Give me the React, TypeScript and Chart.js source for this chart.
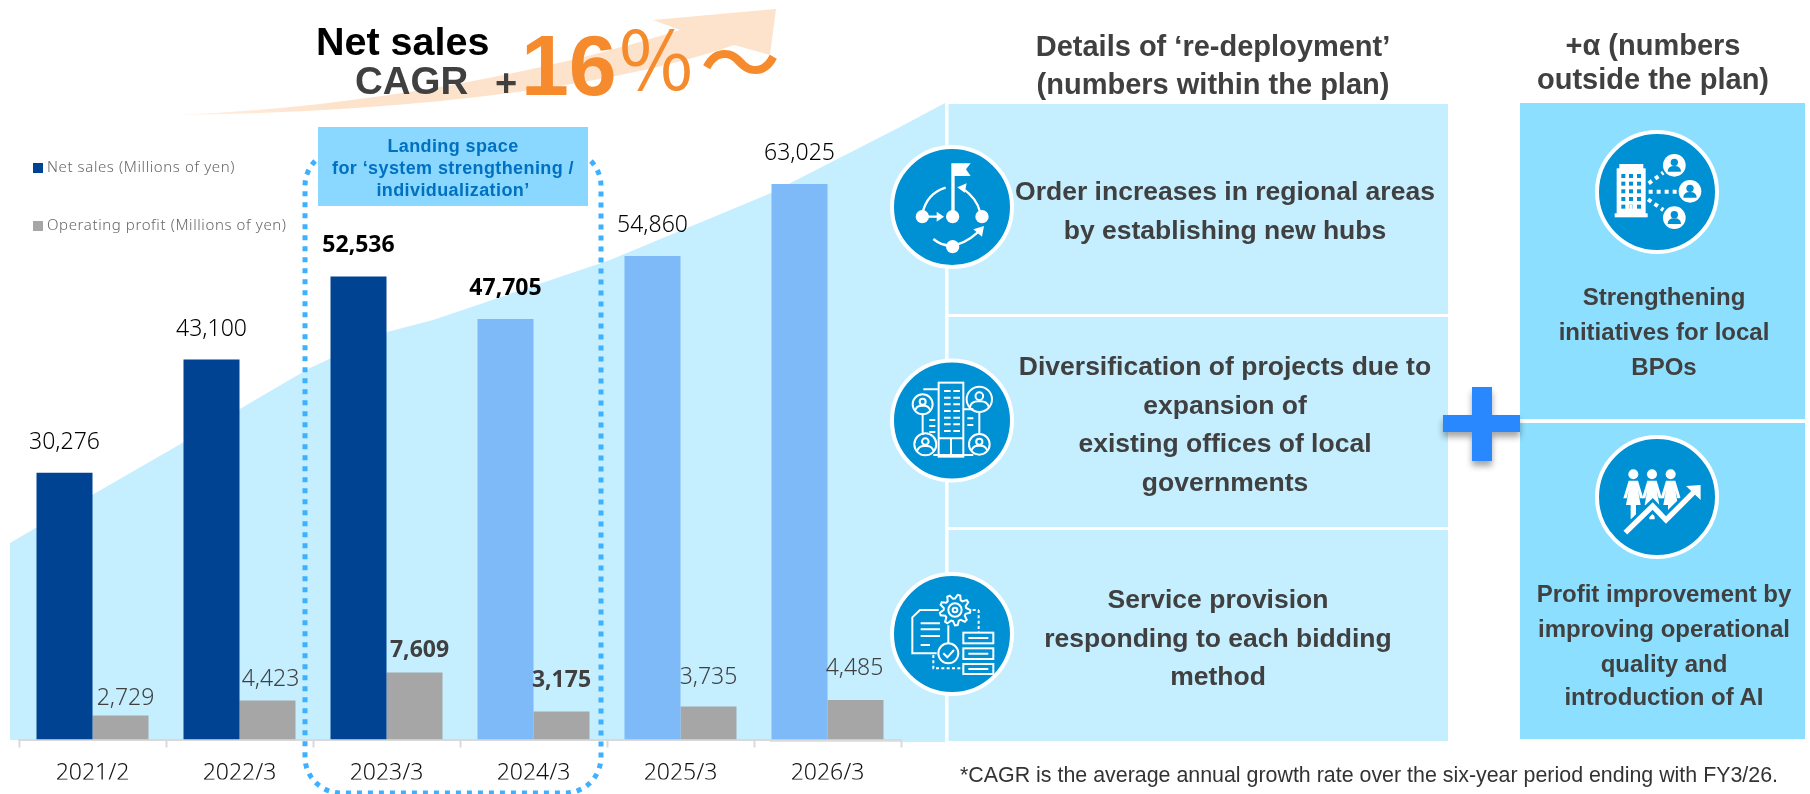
import React, { useEffect, useRef } from "react";
import Chart from "chart.js/auto";

const categories = ["2021/2", "2022/3", "2023/3", "2024/3", "2025/3", "2026/3"];
const netSales = [30276, 43100, 52536, 47705, 54860, 63025];
const operatingProfit = [2729, 4423, 7609, 3175, 3735, 4485];
const netSalesColors = ["#004393", "#004393", "#004393", "#7EB9F8", "#7EB9F8", "#7EB9F8"];
const emphasised = [false, false, true, true, false, false];
const profitLabelGaps = [10, 15, 15, 25, 23, 25];
const profitLabelShifts = [5, 3, 5, 0, 0, -1];
const backdropOutline = "10,543 92,495 184,442 255,400 310,368 387,332 433,320 610,260 771,193 900,127 945,103 945,742 770,742 770,740 10,740";

const SANS = '"Liberation Sans", Arial, sans-serif';
const NOTO = '"Noto Sans", sans-serif';
const CJK = '"Noto Sans CJK JP", sans-serif';
const DARK = "#404040";
const CIRCLE = "#0090D4";

const valueLabels = {
  id: "valueLabels",
  afterDatasetsDraw(chart: any) {
    const { ctx } = chart;
    ctx.save();
    ctx.textAlign = "center";
    ctx.textBaseline = "alphabetic";
    chart.getDatasetMeta(0).data.forEach((el: any, i: number) => {
      ctx.font = `${emphasised[i] ? "700" : "300"} 23px ${NOTO}`;
      ctx.fillStyle = "#000000";
      ctx.fillText(netSales[i].toLocaleString("en-US"), el.x, el.y - 24);
    });
    chart.getDatasetMeta(1).data.forEach((el: any, i: number) => {
      ctx.font = `${emphasised[i] ? "700" : "300"} 23px ${NOTO}`;
      ctx.fillStyle = emphasised[i] ? "#404040" : "#404040";
      ctx.fillText(operatingProfit[i].toLocaleString("en-US"), el.x + profitLabelShifts[i], el.y - profitLabelGaps[i]);
    });
    ctx.restore();
  },
};

function CentredLines({ x, baselines, lines, size, fill = DARK, spacing = 0 }: any) {
  return (
    <text fontFamily={SANS} fontWeight={700} fontSize={size} fill={fill} textAnchor="middle" letterSpacing={spacing}>
      {lines.map((l: string, i: number) => (
        <tspan key={i} x={x} y={baselines[i]}>{l}</tspan>
      ))}
    </text>
  );
}

function Zoomed({ x, y, children }: any) {
  return <g transform={`translate(${x} ${y}) scale(0.3333)`}>{children}</g>;
}

function Badge({ x, y }: any) {
  return <circle cx={x} cy={y} r={60} fill={CIRCLE} stroke="#fff" strokeWidth={4} />;
}

function Person({ x, y, r }: any) {
  return (
    <g fill="none" stroke="#fff" strokeWidth={6}>
      <circle cx={x} cy={y} r={r} />
      <circle cx={x} cy={y - r * 0.25} r={r * 0.3} />
      <path d={`M${x - r * 0.75} ${y + r * 0.6} Q${x - r * 0.6} ${y + r * 0.1} ${x} ${y + r * 0.15} Q${x + r * 0.6} ${y + r * 0.1} ${x + r * 0.75} ${y + r * 0.6}`} />
    </g>
  );
}

function FilledPerson({ x, y }: any) {
  return (
    <g>
      <circle cx={x} cy={y} r={34} fill="#fff" />
      <circle cx={x} cy={y - 9} r={11} fill={CIRCLE} />
      <path d={`M${x - 20} ${y + 19} Q${x - 20} ${y + 2} ${x} ${y + 2} Q${x + 20} ${y + 2} ${x + 20} ${y + 19} Z`} fill={CIRCLE} />
    </g>
  );
}

function gearPoints(cx: number, cy: number, inner: number, outer: number, teeth: number) {
  const pts: string[] = [];
  for (let i = 0; i < teeth * 4; i++) {
    const a = (i / (teeth * 4)) * Math.PI * 2;
    const r = i % 4 < 2 ? outer : inner;
    pts.push(`${(cx + r * Math.cos(a)).toFixed(1)},${(cy + r * Math.sin(a)).toFixed(1)}`);
  }
  return pts.join(" ");
}

function IconHubs() {
  return (
    <Zoomed x={880} y={140}>
      <g fill="#fff">
        <polygon points="214,70 272,70 258,88 272,108 224,108 224,215 214,215" />
        <circle cx={127} cy={230} r={20} /><circle cx={218} cy={230} r={20} />
        <circle cx={306} cy={230} r={20} /><circle cx={218} cy={320} r={20} />
        <polygon points="170,215 192,230 170,245" />
        <polygon points="232,142 260,130 254,158" />
        <polygon points="312,258 306,290 280,268" />
      </g>
      <g fill="none" stroke="#fff" strokeWidth={7}>
        <path d="M197 143 Q140 160 127 222" />
        <path d="M127 230 H180" />
        <path d="M300 215 Q290 175 248 145" />
        <path d="M160 297 Q218 345 296 275" />
      </g>
    </Zoomed>
  );
}

function IconOffices() {
  const rows = [123, 143, 163, 183, 203, 223, 243];
  return (
    <Zoomed x={880} y={350}>
      <g fill="none" stroke="#fff" strokeWidth={6}>
        <rect x={176} y={98} width={74} height={222} />
        <path d="M176 265 H250 M213 265 V320" />
        <path d="M130 118 H176 M128 190 V255 M298 188 V252 M250 178 H280" />
        <path d="M160 315 H280" />
        {rows.map((y) => (
          <path key={y} d={`M192 ${y} H212 M220 ${y} H240`} />
        ))}
        <path d="M148 210 H166 M148 228 H166 M148 246 H166 M262 205 H280 M262 225 H280" />
      </g>
      <Person x={128} y={163} r={30} />
      <Person x={298} y={148} r={38} />
      <Person x={136} y={283} r={33} />
      <Person x={298} y={283} r={31} />
    </Zoomed>
  );
}

function IconBidding() {
  return (
    <Zoomed x={880} y={560}>
      <g fill="none" stroke="#fff" strokeWidth={6}>
        <polygon points={gearPoints(225, 150, 34, 46, 9)} />
        <circle cx={225} cy={150} r={20} />
        <circle cx={225} cy={150} r={7} />
        <path d="M176 150 H120 L97 172 V280 H170" />
        <path d="M122 190 H180 M122 208 H180 M122 228 H180 M122 255 H150" />
        <circle cx={205} cy={280} r={30} />
        <path d="M190 280 L202 292 L222 270" />
        <path d="M205 196 V250" />
        <rect x={250} y={218} width={90} height={32} />
        <rect x={250} y={265} width={90} height={32} />
        <rect x={250} y={312} width={90} height={30} />
        <path d="M265 234 H325 M265 281 H325 M265 327 H325" />
        <path d="M296 150 V215 M278 150 H296" strokeDasharray="9 7" />
        <path d="M160 285 V325 H250" strokeDasharray="9 7" />
      </g>
    </Zoomed>
  );
}

function IconBuilding() {
  const cols = [130, 153, 177];
  const rows = [138, 161, 184, 207, 230];
  return (
    <Zoomed x={1580} y={130}>
      <g fill="#fff">
        <rect x={118} y={102} width={72} height={20} />
        <rect x={110} y={115} width={87} height={140} />
        <rect x={104} y={250} width={99} height={12} />
      </g>
      <g fill={CIRCLE}>
        {rows.map((y) => cols.map((x) => <rect key={`${x}-${y}`} x={x - 6} y={y - 6} width={12} height={12} />))}
      </g>
      <rect x={148} y={224} width={10} height={28} fill="#fff" />
      <g stroke="#fff" strokeWidth={12} strokeDasharray="12 12" fill="none">
        <path d="M206 160 L250 128" />
        <path d="M206 185 H294" />
        <path d="M204 208 L250 240" />
      </g>
      <FilledPerson x={283} y={106} />
      <FilledPerson x={330} y={184} />
      <FilledPerson x={283} y={263} />
    </Zoomed>
  );
}

function IconGrowth() {
  const body = (x: number) => `M${x - 14} 152 H${x + 14} L${x + 30} 205 H${x + 20} L${x + 14} 180 L${x + 22} 225 H${x + 8} V268 H${x - 8} V225 H${x - 22} L${x - 14} 180 L${x - 20} 205 H${x - 30} Z`;
  return (
    <Zoomed x={1580} y={430}>
      <g fill="#fff">
        {[160, 216, 272].map((x) => (
          <g key={x}>
            <circle cx={x} cy={133} r={15} />
            <path d={body(x)} />
          </g>
        ))}
      </g>
      <polyline points="136,308 218,228 258,270 340,188" fill="none" stroke={CIRCLE} strokeWidth={34} />
      <polyline points="136,308 218,228 258,270 340,188" fill="none" stroke="#fff" strokeWidth={16} />
      <polygon points="362,165 362,210 318,168" fill="#fff" />
    </Zoomed>
  );
}

const fill = { position: "absolute", left: 0, top: 0, width: 1810, height: 794 } as const;

export default function App() {
  const ref = useRef<HTMLCanvasElement | null>(null);
  useEffect(() => {
    if (!ref.current) return;
    const chart = new Chart(ref.current, {
      type: "bar",
      data: {
        labels: categories,
        datasets: [
          { label: "Net sales (Millions of yen)", data: netSales, backgroundColor: netSalesColors },
          { label: "Operating profit (Millions of yen)", data: operatingProfit, backgroundColor: "#A6A6A6" },
        ],
      },
      options: {
        responsive: false,
        animation: false,
        events: [],
        layout: { padding: { left: 19, right: 909, top: 122.5, bottom: 14.5 } },
        datasets: { bar: { categoryPercentage: 0.762, barPercentage: 1 } },
        plugins: { legend: { display: false }, tooltip: { enabled: false } },
        scales: {
          y: { display: false, min: 0, max: 70000 },
          x: {
            afterFit(scale: any) { scale.height = 40; },
            border: { color: "#D9D9D9", width: 2 },
            grid: { drawOnChartArea: false, tickLength: 8, tickColor: "#D9D9D9", tickWidth: 2 },
            ticks: { color: "#111111", font: { family: "Noto Sans", size: 23, weight: "300" }, padding: 12, autoSkip: false, maxRotation: 0 },
          },
        },
      } as any,
      plugins: [valueLabels],
    });
    return () => chart.destroy();
  }, []);

  return (
    <div style={{ ...fill, overflow: "hidden", background: "#fff" }}>
      <svg width={1810} height={794} style={{ ...fill, display: "block" }}>
        <polygon points={backdropOutline} fill="#C5EEFF" />
        <g fill="#C5EEFF">
          <rect x={948} y={104} width={500} height={210} />
          <rect x={948} y={317} width={500} height={210} />
          <rect x={948} y={530} width={500} height={211} />
        </g>
        <g fill="#8DDFFF">
          <rect x={1520} y={103} width={285} height={316} />
          <rect x={1520} y={423} width={285} height={316} />
        </g>
      </svg>
      <canvas ref={ref} width={1810} height={794} style={{ ...fill, display: "block" }} />
      <svg width={1810} height={794} style={{ ...fill, display: "block" }}>
        <defs>
          <linearGradient id="arrowFade" x1="0" x2="1" y1="0" y2="0">
            <stop offset="0" stopColor="#FDE3CB" stopOpacity={0.5} />
            <stop offset="0.25" stopColor="#FDE3CB" />
            <stop offset="1" stopColor="#FDE3CB" />
          </linearGradient>
          <filter id="plusShadow" x="-20%" y="-20%" width="140%" height="150%">
            <feDropShadow dx={0} dy={5} stdDeviation={3} floodColor="#000" floodOpacity={0.35} />
          </filter>
        </defs>

        <path d="M176 115 C340 108 520 80 680 30 L653 20 L776 9 L770 55 L734 45 C620 85 420 112 176 115 Z" fill="url(#arrowFade)" />
        <text x={316} y={55} fontFamily={SANS} fontWeight={700} fontSize={39.5} fill="#000">Net sales</text>
        <text x={355} y={94} fontFamily={SANS} fontWeight={700} fontSize={38.5} fill={DARK}>CAGR</text>
        <text x={495} y={96} fontFamily={SANS} fontWeight={700} fontSize={38} fill={DARK}>+</text>
        <text x={521} y={95} fontFamily={SANS} fontWeight={700} fontSize={86} fill="#F68B2E">16</text>
        <text x={616} y={90} fontFamily={CJK} fontWeight={400} fontSize={80} fill="#F68B2E">％</text>
        <text x={700} y={92} fontFamily={CJK} fontWeight={500} fontSize={80} fill="#F68B2E">～</text>

        <rect x={33} y={163} width={10} height={10} fill="#004393" />
        <text x={47} y={172} fontFamily={NOTO} fontWeight={300} fontSize={15} letterSpacing={0.6} fill="#666666">Net sales (Millions of yen)</text>
        <rect x={33} y={221} width={10} height={10} fill="#A6A6A6" />
        <text x={47} y={230} fontFamily={NOTO} fontWeight={300} fontSize={15} letterSpacing={0.6} fill="#666666">Operating profit (Millions of yen)</text>

        <rect x={305} y={150} width={296} height={643} rx={36} fill="none" stroke="#3DB0FF" strokeWidth={5} strokeDasharray="5 6" />
        <rect x={318} y={127} width={270} height={79} fill="#8AD7FF" />
        <CentredLines x={453} baselines={[152, 174, 196]} size={18} spacing={0.4} fill="#0070C0"
          lines={["Landing space", "for ‘system strengthening /", "individualization’"]} />

        <CentredLines x={1213} baselines={[56, 94]} size={29} lines={["Details of ‘re-deployment’", "(numbers within the plan)"]} />
        <CentredLines x={1653} baselines={[55, 89]} size={29} lines={["+α (numbers", "outside the plan)"]} />

        <path d="M947 104 V741" stroke="#fff" strokeWidth={3} />
        <Badge x={952} y={207} /><IconHubs />
        <Badge x={952} y={420.5} /><IconOffices />
        <Badge x={952} y={634} /><IconBidding />

        <CentredLines x={1225} baselines={[200, 239]} size={26.5} lines={["Order increases in regional areas", "by establishing new hubs"]} />
        <CentredLines x={1225} baselines={[375, 413.5, 452, 490.5]} size={26.5}
          lines={["Diversification of projects due to", "expansion of", "existing offices of local", "governments"]} />
        <CentredLines x={1218} baselines={[608, 647, 685]} size={26.5}
          lines={["Service provision", "responding to each bidding", "method"]} />

        <Badge x={1657} y={192} /><IconBuilding />
        <Badge x={1657} y={497} /><IconGrowth />
        <CentredLines x={1664} baselines={[305, 340, 375]} size={24} lines={["Strengthening", "initiatives for local", "BPOs"]} />
        <CentredLines x={1664} baselines={[602, 637, 672, 705]} size={24}
          lines={["Profit improvement by", "improving operational", "quality and", "introduction of AI"]} />

        <path d="M1472 387 H1492 V415 H1520 V432 H1492 V461 H1472 V432 H1443 V415 H1472 Z" fill="#2B88FF" filter="url(#plusShadow)" />

        <text x={960} y={782} fontFamily={SANS} fontSize={21.4} fill="#333">*CAGR is the average annual growth rate over the six-year period ending with FY3/26.</text>
      </svg>
    </div>
  );
}
